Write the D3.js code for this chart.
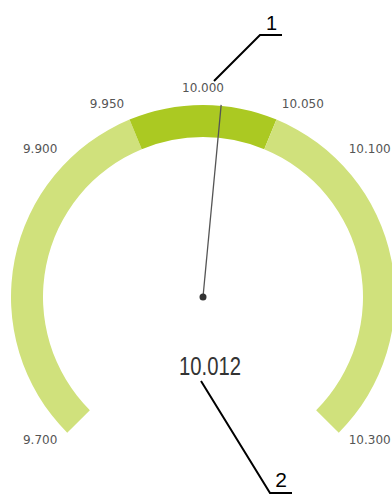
<!DOCTYPE html>
<html>
<head>
<meta charset="utf-8">
<script src="https://cdn.jsdelivr.net/npm/d3@7/dist/d3.min.js"></script>
<style>
  html, body { margin: 0; padding: 0; background: #fff; }
  svg { display: block; }
</style>
</head>
<body>
<svg id="chart" width="392" height="495"></svg>
<script>
// Gauge scale and readings
const scaleMin = 9.7;
const scaleMax = 10.3;
const tickValues = [9.7, 9.9, 9.95, 10.0, 10.05, 10.1, 10.3];
const tickLabels = ["9.700", "9.900", "9.950", "10.000", "10.050", "10.100", "10.300"];
const bandFrom = [9.7, 9.95, 10.05];
const bandTo = [9.95, 10.05, 10.3];
const bandColors = ["#d0e17c", "#abc922", "#d0e17c"];
const needleValue = 10.012;
const valueText = "10.012";
const calloutLabels = ["1", "2"];

const svg = d3.select("#chart");
const cx = 203, cy = 297;
const rOuter = 192, rInner = 160, rLabel = 206;

const angle = d3.scaleLinear()
  .domain([scaleMin, scaleMax])
  .range([-135 * Math.PI / 180, 135 * Math.PI / 180]);

const g = svg.append("g").attr("transform", `translate(${cx},${cy})`);

// colour bands
const arc = d3.arc().innerRadius(rInner).outerRadius(rOuter);
g.selectAll("path.band")
  .data(bandFrom.map((f, i) => ({ from: f, to: bandTo[i], color: bandColors[i] })))
  .join("path")
  .attr("class", "band")
  .attr("d", d => arc({ startAngle: angle(d.from), endAngle: angle(d.to) }))
  .attr("fill", d => d.color);

// tick labels around the rim
const polar = (a, r) => [r * Math.sin(a), -r * Math.cos(a)];
g.selectAll("text.tick")
  .data(tickValues.map((v, i) => ({ v, label: tickLabels[i] })))
  .join("text")
  .attr("class", "tick")
  .attr("x", d => polar(angle(d.v), rLabel)[0])
  .attr("y", d => polar(angle(d.v), rLabel)[1] - 3)
  .attr("dy", "0.35em")
  .attr("text-anchor", d => {
    const a = angle(d.v);
    return Math.abs(a) < 1e-6 ? "middle" : (a < 0 ? "end" : "start");
  })
  .attr("font-family", "'DejaVu Sans', Verdana, sans-serif")
  .attr("font-size", 12)
  .attr("fill", "#555")
  .text(d => d.label);

// needle
const na = angle(needleValue);
const tip = polar(na, rOuter + 1);
g.append("line")
  .attr("x1", 0).attr("y1", 0)
  .attr("x2", tip[0]).attr("y2", tip[1])
  .attr("stroke", "#555")
  .attr("stroke-width", 1.3);
g.append("circle").attr("r", 3.5).attr("fill", "#333");

// value readout (condensed)
g.append("text")
  .attr("x", 7)
  .attr("y", 78)
  .attr("text-anchor", "middle")
  .attr("font-family", "'Liberation Sans', Arial, sans-serif")
  .attr("font-size", 25)
  .attr("textLength", 62)
  .attr("lengthAdjust", "spacingAndGlyphs")
  .attr("fill", "#333")
  .text(valueText);

// numbered callouts
const c1 = [[11, -216], [57, -262], [79, -262]];
const c2 = [[-2, 84], [67, 196], [89, 196]];
const line = d3.line();
[c1, c2].forEach(pts => {
  g.append("path")
    .attr("d", line(pts))
    .attr("fill", "none")
    .attr("stroke", "#000")
    .attr("stroke-width", 2);
});
g.append("text")
  .attr("x", 68.5).attr("y", -267.5)
  .attr("text-anchor", "middle")
  .attr("font-family", "'Liberation Sans', Arial, sans-serif")
  .attr("font-size", 20)
  .attr("fill", "#000")
  .text(calloutLabels[0]);
g.append("text")
  .attr("x", 78).attr("y", 190)
  .attr("text-anchor", "middle")
  .attr("font-family", "'Liberation Sans', Arial, sans-serif")
  .attr("font-size", 21)
  .attr("fill", "#000")
  .text(calloutLabels[1]);
</script>
</body>
</html>
